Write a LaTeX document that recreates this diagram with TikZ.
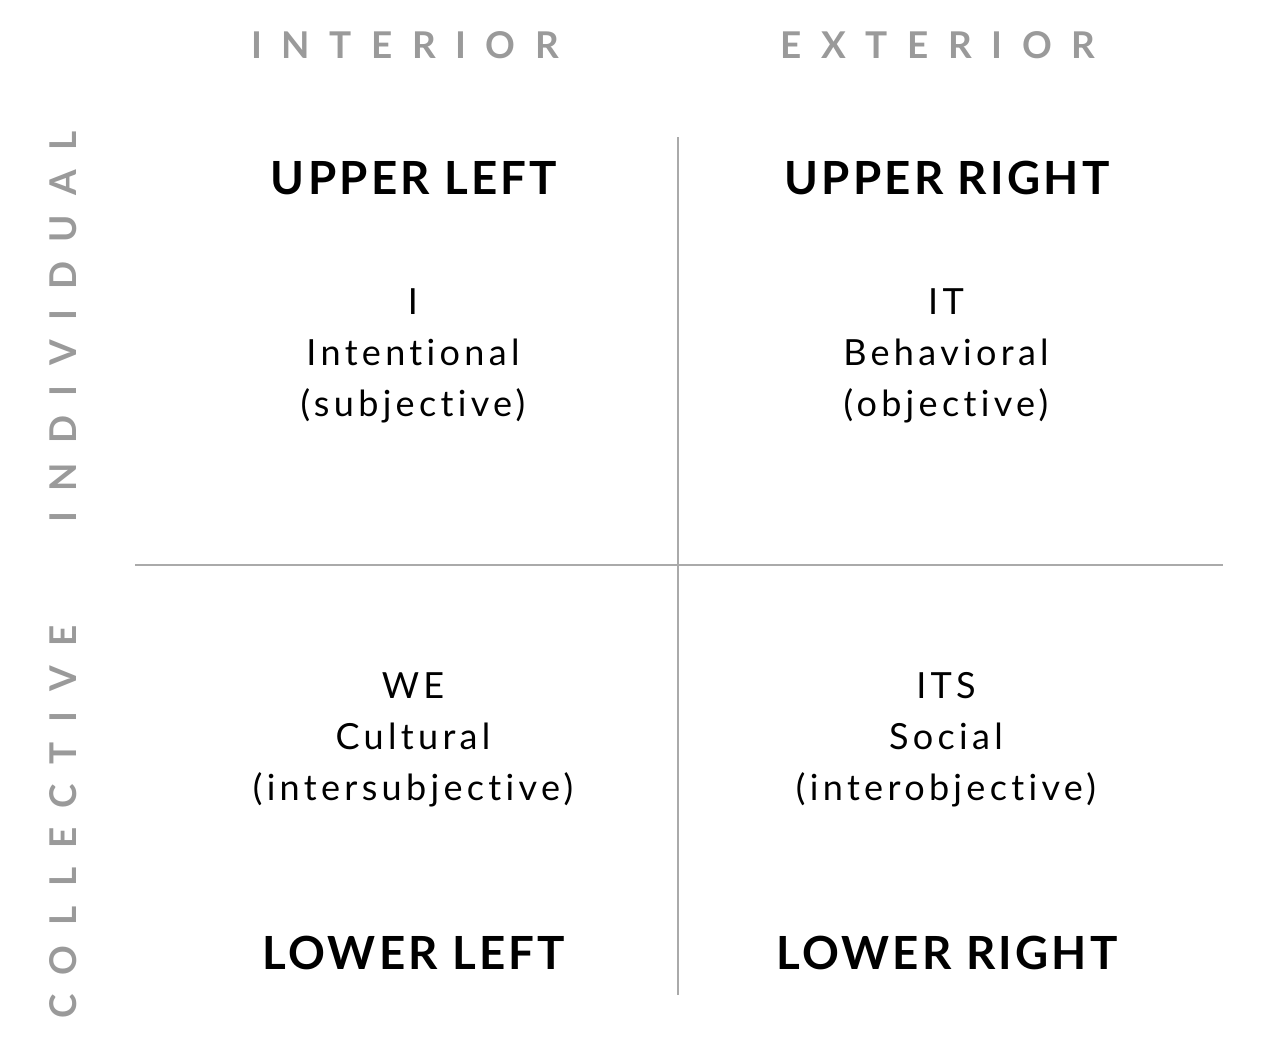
\documentclass[tikz,border=0pt]{standalone}
\usepackage{fontspec}
\setmainfont{Lato}
\newfontfamily\axisfont[LetterSpace=53]{Lato}
\newfontfamily\headfont[LetterSpace=7]{Lato}
\newfontfamily\bodyfont[LetterSpace=12, Ligatures={NoCommon}, RawFeature={-liga;-dlig}]{Lato}
\definecolor{axisgray}{HTML}{9A9A9A}
\definecolor{linegray}{HTML}{AAAAAA}

\begin{document}
\begin{tikzpicture}[
    x=0.02cm, y=-0.02cm,
    axislabel/.style={text=axisgray, inner sep=0pt, font=\axisfont\bfseries\fontsize{21}{25}\selectfont},
    quadhead/.style={text=black, inner sep=0pt, font=\headfont\bfseries\fontsize{26}{30}\selectfont},
    quadtext/.style={text=black, inner sep=0pt, align=center, font=\bodyfont\fontsize{20.5}{29}\selectfont},
    axisline/.style={draw=linegray, line width=1.1pt}
  ]
  \useasboundingbox (0,0) rectangle (1280,1061);

  % Axis labels
  \node[axislabel] (interior) at (405,45) {INTERIOR};
  \node[axislabel] (exterior) at (938,45) {EXTERIOR};
  \node[axislabel, rotate=90] (individual) at (63,327) {INDIVIDUAL};
  \node[axislabel, rotate=90] (collective) at (63,822) {COLLECTIVE};

  % Quadrant headings
  \node[quadhead] (upperleft) at (414,178) {UPPER LEFT};
  \node[quadhead] (upperright) at (947,178) {UPPER RIGHT};
  \node[quadhead] (lowerleft) at (414,953) {LOWER LEFT};
  \node[quadhead] (lowerright) at (947,953) {LOWER RIGHT};

  % Quadrant texts
  \node[quadtext] (ultext) at (413,356) {I\\Intentional\\(subjective)};
  \node[quadtext] (urtext) at (946,356) {IT\\Behavioral\\(objective)};
  \node[quadtext] (lltext) at (413,740) {WE\\Cultural\\(intersubjective)};
  \node[quadtext] (lrtext) at (946,740) {ITS\\Social\\(interobjective)};

  % Dividing lines
  \coordinate (vtop) at (678,137);
  \coordinate (vbot) at (678,995);
  \coordinate (hleft) at (135,565);
  \coordinate (hright) at (1223,565);
  \draw[axisline] (vtop) -- (vbot);
  \draw[axisline] (hleft) -- (hright);
\end{tikzpicture}
\end{document}
